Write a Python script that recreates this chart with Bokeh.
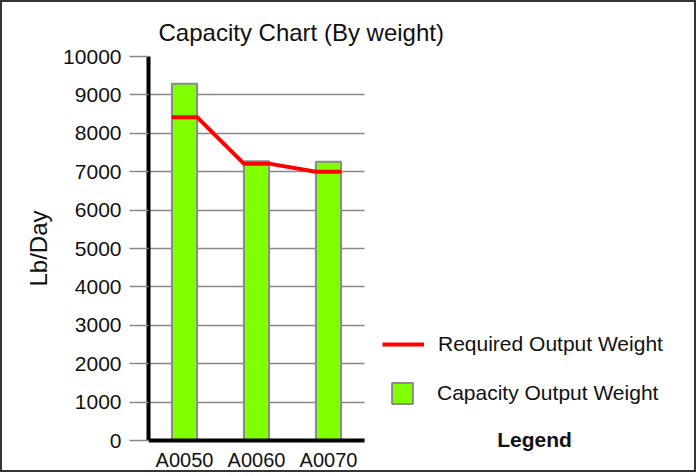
from bokeh.plotting import figure
from bokeh.models import (ColumnDataSource, Range1d, FixedTicker, Legend,
                          LegendItem, Label, Title)
from bokeh.embed import file_html
from bokeh.resources import INLINE

# Chart data
categories = ["A0050", "A0060", "A0070"]
capacity_output = [9290, 7270, 7260]
required_output = [8420, 7210, 7000]
y_ticks = [0, 1000, 2000, 3000, 4000, 5000, 6000, 7000, 8000, 9000, 10000]
Y_MAX = 10000

FONT = "Liberation Sans"
TEXT = "#111111"
BAR_W = 0.35

# Layout (pixels): the value axis spans 384 px, each category slot 72 px;
# the frame continues right and below so the legend sits inside it.
W, H = 696, 472
LEFT, TOP = 146, 54
AXIS_PX, SLOT_PX, BELOW_PX = 384, 72, 34
frame_w = W - LEFT

x_pos = [i + 0.5 for i in range(len(categories))]

p = figure(
    width=W, height=H,
    x_range=Range1d(0, frame_w / SLOT_PX),
    y_range=Range1d(-Y_MAX * BELOW_PX / AXIS_PX, Y_MAX),
    output_backend="svg", toolbar_location=None,
    min_border_left=LEFT, min_border_right=0,
    min_border_top=TOP, min_border_bottom=0,
)
p.styles = {"border": "2px solid #333333"}
p.outline_line_color = None

p.title.text = "Capacity Chart (By weight)"
p.title.text_font = FONT
p.title.text_font_size = "24px"
p.title.text_font_style = "normal"
p.title.text_color = TEXT
p.title.align = "left"
p.title.offset = 10
p.title.standoff = 21

# Capacity bars
bar_src = ColumnDataSource(dict(x=x_pos, top=capacity_output))
bars = p.vbar(x="x", top="top", bottom=0, width=BAR_W, source=bar_src,
              fill_color="#80FF00", line_color="#8a8a8a", line_width=2)

# Required output: flat across each bar, joined between bars
line_x, line_y = [], []
for xc, val in zip(x_pos, required_output):
    line_x += [xc - BAR_W / 2, xc + BAR_W / 2]
    line_y += [val, val]
line_src = ColumnDataSource(dict(x=line_x, y=line_y))
req_line = p.line(x="x", y="y", source=line_src, line_color="#FF0000",
                  line_width=4)

# Value axis
p.yaxis.ticker = FixedTicker(ticks=y_ticks)
p.yaxis.bounds = (0, Y_MAX)
p.yaxis.axis_line_color = "black"
p.yaxis.axis_line_width = 4
p.yaxis.major_tick_in = 0
p.yaxis.major_tick_out = 19
p.yaxis.major_tick_line_color = "#888888"
p.yaxis.major_tick_line_width = 1.5
p.yaxis.minor_tick_line_color = None
p.yaxis.major_label_standoff = 8
p.yaxis.major_label_text_font = FONT
p.yaxis.major_label_text_font_size = "21px"
p.yaxis.major_label_text_color = TEXT

# Value-axis caption, set beside the 0..10000 span
p.add_layout(Title(text="Lb/Day", align="left", offset=188, standoff=18,
                   text_font=FONT, text_font_size="24px",
                   text_font_style="normal", text_color=TEXT), "left")

# Category axis along the zero line
p.xaxis.fixed_location = 0
p.xaxis.bounds = (0, len(categories))
p.xaxis.ticker = FixedTicker(ticks=x_pos)
p.xaxis.major_label_overrides = {x: c for x, c in zip(x_pos, categories)}
p.xaxis.axis_line_color = "black"
p.xaxis.axis_line_width = 4
p.xaxis.major_tick_in = 0
p.xaxis.major_tick_out = 0
p.xaxis.major_tick_line_color = None
p.xaxis.minor_tick_line_color = None
p.xaxis.major_label_standoff = 8
p.xaxis.major_label_text_font = FONT
p.xaxis.major_label_text_font_size = "20px"
p.xaxis.major_label_text_color = TEXT

p.xgrid.grid_line_color = None
p.ygrid.ticker = FixedTicker(ticks=y_ticks)
p.ygrid.bounds = (0, Y_MAX)
p.ygrid.cross_bounds = (0, len(categories))
p.ygrid.grid_line_color = "#888888"
p.ygrid.grid_line_width = 1.5


# Legend (two blocks so each symbol keeps its own size)
def make_legend(item, loc, gw, standoff):
    return Legend(items=[item], location=loc, orientation="vertical",
                  glyph_width=gw, glyph_height=26, label_height=26,
                  label_standoff=standoff, padding=0, margin=0, spacing=0,
                  border_line_color=None, background_fill_alpha=0,
                  label_text_font=FONT, label_text_font_size="21px",
                  label_text_color=TEXT)


p.add_layout(make_legend(LegendItem(label="Required Output Weight",
                                    renderers=[req_line]), (234, 117), 42, 14))
p.add_layout(make_legend(LegendItem(label="Capacity Output Weight",
                                    renderers=[bars]), (241, 68), 26, 22))

p.add_layout(Label(x=386, y=35, x_units="screen", y_units="screen",
                   text="Legend", text_align="center", text_baseline="middle",
                   text_font=FONT, text_font_size="21px",
                   text_font_style="bold", text_color=TEXT))

open("out.html", "w").write(file_html(p, INLINE))
